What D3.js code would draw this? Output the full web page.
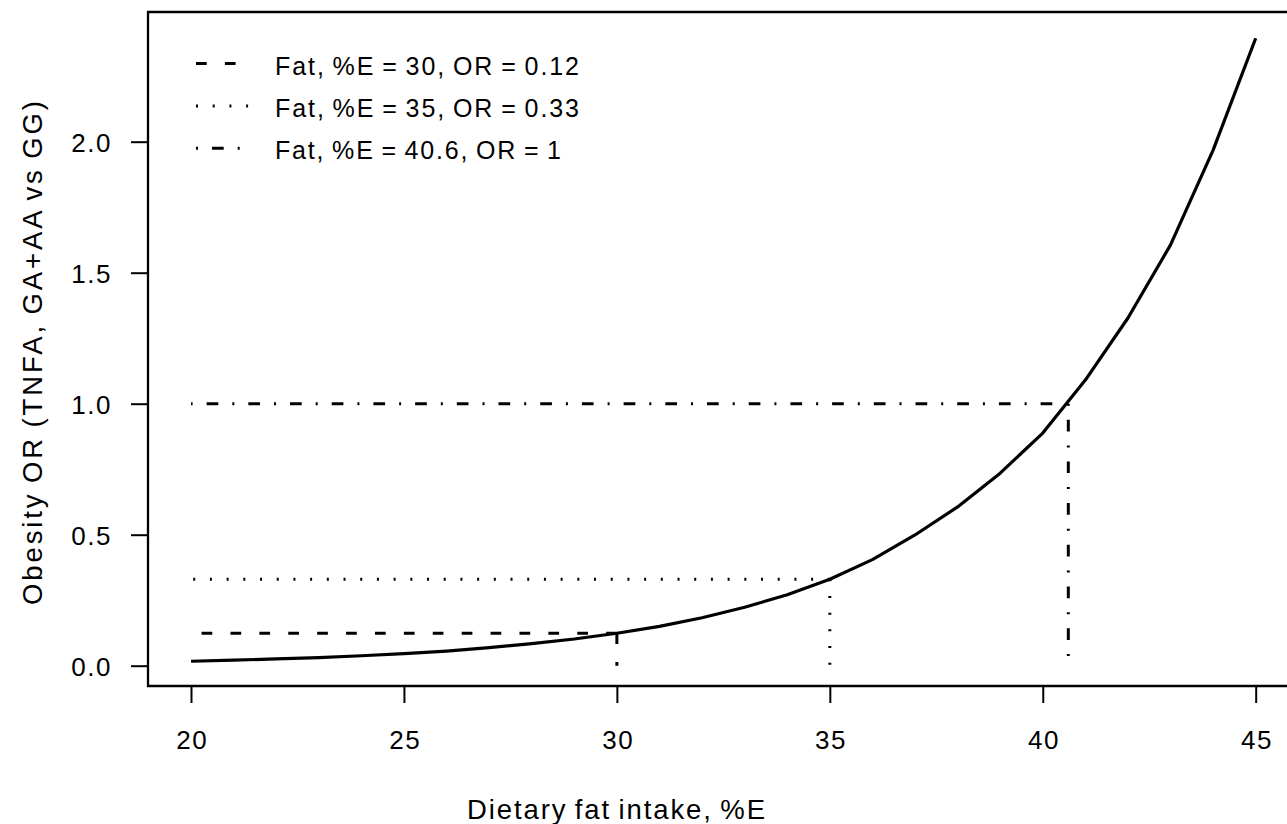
<!DOCTYPE html>
<html>
<head>
<meta charset="utf-8">
<script src="https://cdn.jsdelivr.net/npm/d3@7"></script>
<style>
  body { margin: 0; background: #fff; }
  svg text { font-family: "Liberation Sans", Arial, sans-serif; fill: #000; }
</style>
</head>
<body>
<div class="chart"></div>
<script>
// curve: obesity OR by dietary fat intake (%E)
var fatPct = [20, 21, 22, 23, 24, 25, 26, 27, 28, 29, 30, 31, 32,
              33, 34, 35, 36, 37, 38, 39, 40, 41, 42, 43, 44, 45];
var orValues = [0.017, 0.021, 0.026, 0.031, 0.038, 0.046, 0.056, 0.069, 0.084, 0.102, 0.124, 0.150, 0.183,
                0.223, 0.271, 0.330, 0.405, 0.499, 0.606, 0.735, 0.888, 1.090, 1.327, 1.606, 1.968, 2.395];

// reference points (drop lines)
var refFat = [30, 35, 40.6];
var refOR = [0.124, 0.33, 1];
var legendLabels = ["Fat, %E = 30, OR = 0.12", "Fat, %E = 35, OR = 0.33", "Fat, %E = 40.6, OR = 1"];

var xTicks = [20, 25, 30, 35, 40, 45];
var yTicks = [0, 0.5, 1, 1.5, 2];

var dashes = ["10.7,18.2", "2,14.7", "2,14,11.7,14"];

var width = 1287, height = 824;
var box = {left: 148, top: 12, bottom: 686, right: 1298};

var svg = d3.select(".chart")
  .append("svg")
  .attr("width", width)
  .attr("height", height);

var x = d3.scaleLinear().domain([20, 45]).range([191, 1255.7]);
var y = d3.scaleLinear().domain([0, 2]).range([665.7, 141.7]);

// axes
var xAxis = d3.axisBottom(x).tickValues(xTicks).tickSize(17).tickPadding(46)
  .tickFormat(d3.format("d"));
var yAxis = d3.axisLeft(y).tickValues(yTicks).tickSize(17).tickPadding(19)
  .tickFormat(d3.format(".1f"));

var gx = svg.append("g").attr("transform", "translate(0," + box.bottom + ")").call(xAxis);
var gy = svg.append("g").attr("transform", "translate(" + box.left + ",0)").call(yAxis);

[gx, gy].forEach(function(g){
  g.select(".domain").remove();
  g.selectAll(".tick line").attr("stroke", "#000").attr("stroke-width", 2);
  g.selectAll(".tick text")
    .attr("font-size", 26)
    .style("letter-spacing", "1.5px")
    .attr("fill", "#000");
});
gx.selectAll(".tick text").attr("dy", 0).attr("dx", 0.75);
gy.selectAll(".tick text").attr("dy", "0.36em");

// box (right side runs off the page)
svg.append("path")
  .attr("d", "M" + box.right + "," + box.top + "H" + box.left + "V" + box.bottom + "H" + box.right)
  .attr("fill", "none")
  .attr("stroke", "#000")
  .attr("stroke-width", 2.3);

// reference lines: horizontal drawn right to left, vertical top to bottom
var line = d3.line().x(function(d){ return x(d[0]); }).y(function(d){ return y(d[1]); });

refFat.forEach(function(f, i){
  svg.append("path")
    .attr("d", line([[f, refOR[i]], [20, refOR[i]]]))
    .attr("fill", "none").attr("stroke", "#000").attr("stroke-width", 3)
    .attr("stroke-dasharray", dashes[i]);
  svg.append("path")
    .attr("d", line([[f, refOR[i]], [f, 0]]))
    .attr("fill", "none").attr("stroke", "#000").attr("stroke-width", 3)
    .attr("stroke-dasharray", dashes[i]);
});

// main curve
svg.append("path")
  .datum(d3.zip(fatPct, orValues))
  .attr("d", line)
  .attr("fill", "none")
  .attr("stroke", "#000")
  .attr("stroke-width", 3.2)
  .attr("stroke-linejoin", "round");

// legend
var legendWidths = [306, 306, 288];
var legend = svg.append("g");
legendLabels.forEach(function(lab, i){
  var ry = 63.5 + i * 42.4;
  legend.append("line")
    .attr("x1", 196).attr("x2", 252).attr("y1", ry).attr("y2", ry)
    .attr("stroke", "#000").attr("stroke-width", 3)
    .attr("stroke-dasharray", dashes[i]);
  legend.append("text")
    .attr("x", 275).attr("y", ry + 11)
    .attr("font-size", 25)
    .style("letter-spacing", "2px")
    .style("word-spacing", "-2px")
    .attr("textLength", legendWidths[i])
    .attr("lengthAdjust", "spacing")
    .text(lab);
});

// axis titles
svg.append("text")
  .attr("x", 617).attr("y", 819)
  .attr("text-anchor", "middle")
  .attr("font-size", 27.5)
  .style("letter-spacing", "2px")
  .style("word-spacing", "-2px")
  .attr("textLength", 300)
  .attr("lengthAdjust", "spacing")
  .text("Dietary fat intake, %E");

svg.append("text")
  .attr("transform", "translate(41.5,351.5) rotate(-90)")
  .attr("text-anchor", "middle")
  .attr("font-size", 27.5)
  .style("letter-spacing", "3px")
  .style("word-spacing", "-2px")
  .attr("textLength", 507)
  .attr("lengthAdjust", "spacing")
  .text("Obesity OR (TNFA, GA+AA vs GG)");
</script>
</body>
</html>
